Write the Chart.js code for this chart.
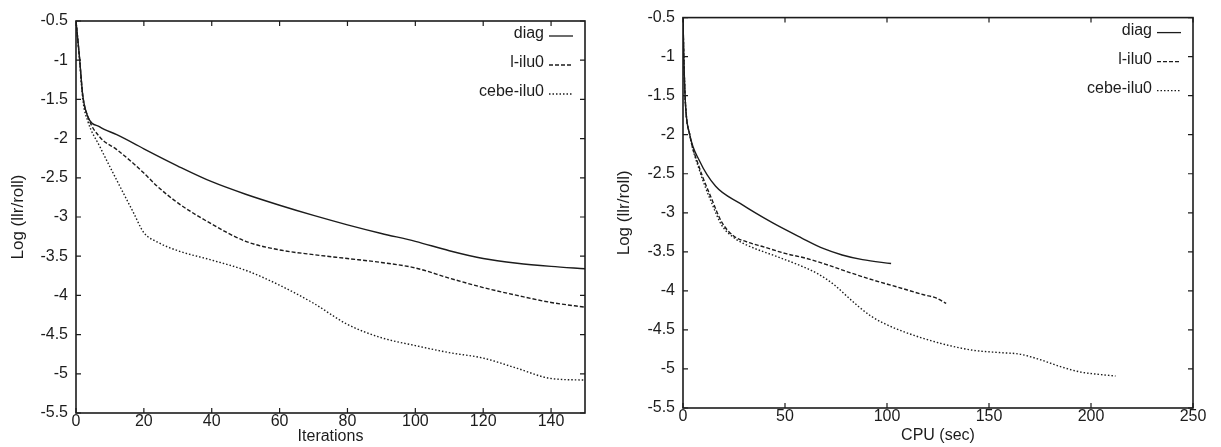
<!DOCTYPE html>
<html>
<head>
<meta charset="utf-8">
<script src="https://cdn.jsdelivr.net/npm/chart.js@4/dist/chart.umd.min.js"></script>
<style>
    html, body { margin: 0; padding: 0; background: #fff; }
    body { width: 1221px; height: 447px; position: relative; overflow: hidden; }
    canvas { position: absolute; top: 0; }
    #iterChart { left: 0; }
    #cpuChart { left: 600px; }
</style>
</head>
<body>
<canvas id="iterChart" width="600" height="447"></canvas>
<canvas id="cpuChart" width="621" height="447"></canvas>
<script>
// series names, shared by both panels
const seriesNames = ["diag", "l-ilu0", "cebe-ilu0"];

// left panel: log residual vs iterations
const iterations = [0, 1, 2, 3.5, 7, 12, 17, 20, 24, 30, 40, 50, 60, 70, 80, 90, 100, 110, 120, 130, 140, 150];
const iterDiag  = [-0.5, -0.95, -1.45, -1.72, -1.85, -1.95, -2.06, -2.13, -2.22, -2.35, -2.55, -2.71, -2.85, -2.98, -3.1, -3.21, -3.31, -3.43, -3.53, -3.59, -3.63, -3.66];
const iterLilu0 = [-0.5, -0.95, -1.45, -1.72, -1.98, -2.14, -2.32, -2.44, -2.61, -2.82, -3.09, -3.31, -3.42, -3.48, -3.53, -3.58, -3.65, -3.78, -3.9, -4.0, -4.09, -4.15];
const iterCebe  = [-0.5, -0.97, -1.5, -1.78, -2.1, -2.53, -2.95, -3.2, -3.32, -3.43, -3.55, -3.68, -3.87, -4.1, -4.37, -4.54, -4.64, -4.73, -4.8, -4.93, -5.06, -5.08];

// right panel: log residual vs CPU seconds
const cpuDiagSec = [0, 0.4, 1.2, 3.3, 8, 16, 28, 44, 58, 69, 78, 88, 102];
const cpuDiagLog = [-0.5, -1.0, -1.6, -2.0, -2.33, -2.66, -2.88, -3.13, -3.32, -3.46, -3.54, -3.6, -3.65];
const cpuLiluSec = [0, 0.4, 1.2, 3.3, 8, 14, 19, 25, 31, 40, 50, 60, 70, 80, 93, 105, 118, 124, 129];
const cpuLiluLog = [-0.5, -1.0, -1.6, -2.0, -2.42, -2.82, -3.12, -3.3, -3.37, -3.44, -3.52, -3.58, -3.66, -3.75, -3.86, -3.95, -4.05, -4.09, -4.16];
const cpuCebeSec = [0, 0.4, 1.2, 3.3, 8, 14, 19, 25, 31, 46, 56, 66, 74, 80, 86, 92, 98, 110, 126, 142, 155, 165, 175, 185, 195, 204, 212];
const cpuCebeLog = [-0.5, -1.0, -1.6, -2.0, -2.45, -2.87, -3.16, -3.32, -3.41, -3.56, -3.66, -3.78, -3.92, -4.06, -4.2, -4.32, -4.41, -4.54, -4.67, -4.76, -4.79, -4.81, -4.88, -4.97, -5.04, -5.07, -5.09];

const INK = "#1c1c1c";
const FONT = "'Liberation Sans', Arial, Helvetica, sans-serif";
const dashes = [[], [4, 2], [1.5, 2]];

const toPoints = (xs, ys) => xs.map((x, i) => ({ x: x, y: ys[i] }));

// gnuplot-ish box with inward ticks on all four sides
const framePlugin = {
    id: "frame",
    afterDraw(chart) {
        const { ctx, chartArea: a, scales } = chart;
        ctx.save();
        ctx.strokeStyle = INK;
        ctx.lineWidth = 1.6;
        ctx.strokeRect(a.left, a.top, a.right - a.left, a.bottom - a.top);
        ctx.lineWidth = 1.2;
        ctx.beginPath();
        scales.x.ticks.forEach(t => {
            const px = scales.x.getPixelForValue(t.value);
            ctx.moveTo(px, a.bottom); ctx.lineTo(px, a.bottom - 5);
            ctx.moveTo(px, a.top); ctx.lineTo(px, a.top + 5);
        });
        scales.y.ticks.forEach(t => {
            const py = scales.y.getPixelForValue(t.value);
            ctx.moveTo(a.left, py); ctx.lineTo(a.left + 5, py);
            ctx.moveTo(a.right, py); ctx.lineTo(a.right - 5, py);
        });
        ctx.stroke();
        ctx.restore();
    }
};

// key in the top right corner: label first, then a line sample
const keyPlugin = {
    id: "key",
    afterDraw(chart) {
        const { ctx, chartArea: a } = chart;
        ctx.save();
        ctx.font = "16px " + FONT;
        ctx.fillStyle = INK;
        ctx.strokeStyle = INK;
        ctx.lineWidth = 1.3;
        ctx.textAlign = "right";
        ctx.textBaseline = "middle";
        chart.data.datasets.forEach((ds, i) => {
            const y = a.top + 13 + i * 29;
            ctx.fillText(ds.label, a.right - 41, y);
            ctx.setLineDash(ds.borderDash || []);
            ctx.beginPath();
            ctx.moveTo(a.right - 36, y + 2);
            ctx.lineTo(a.right - 12, y + 2);
            ctx.stroke();
        });
        ctx.restore();
    }
};

function makePanel(canvasId, sets, xOpts, layout) {
    return new Chart(document.getElementById(canvasId), {
        type: "line",
        data: {
            datasets: sets.map((pts, i) => ({
                label: seriesNames[i],
                data: pts,
                borderColor: INK,
                borderWidth: 1.4,
                borderDash: dashes[i],
                pointRadius: 0,
                fill: false,
                cubicInterpolationMode: "monotone"
            }))
        },
        options: {
            responsive: false,
            animation: false,
            layout: { padding: { top: layout.top, right: layout.right, left: 0, bottom: 0 } },
            plugins: { legend: { display: false }, tooltip: { enabled: false } },
            scales: {
                x: {
                    type: "linear",
                    min: 0,
                    max: xOpts.max,
                    grid: { display: false, drawTicks: false },
                    border: { display: false },
                    ticks: {
                        stepSize: xOpts.step,
                        includeBounds: false,
                        maxRotation: 0,
                        padding: -1,
                        color: INK,
                        font: { family: FONT, size: 16 },
                        callback: v => String(v)
                    },
                    title: {
                        display: true,
                        text: xOpts.title,
                        color: INK,
                        font: { family: FONT, size: 16 },
                        padding: { top: 0, bottom: layout.xTitlePad }
                    },
                    afterFit: s => { s.height = layout.xHeight; }
                },
                y: {
                    type: "linear",
                    min: -5.5,
                    max: -0.5,
                    grid: { display: false, drawTicks: false },
                    border: { display: false },
                    ticks: {
                        stepSize: 0.5,
                        padding: 8,
                        color: INK,
                        font: { family: FONT, size: 16 },
                        callback: v => String(v)
                    },
                    title: {
                        display: true,
                        text: "Log (llr/roll)",
                        color: INK,
                        font: { family: FONT, size: 17 },
                        padding: { top: layout.yTitlePad, bottom: 0 }
                    },
                    afterFit: s => { s.width = layout.yWidth; }
                }
            }
        },
        plugins: [framePlugin, keyPlugin]
    });
}

makePanel("iterChart",
    [toPoints(iterations, iterDiag), toPoints(iterations, iterLilu0), toPoints(iterations, iterCebe)],
    { max: 150, step: 20, title: "Iterations" },
    { top: 21, right: 15, yWidth: 76, xHeight: 34, yTitlePad: 8, xTitlePad: 1 });

makePanel("cpuChart",
    [toPoints(cpuDiagSec, cpuDiagLog), toPoints(cpuLiluSec, cpuLiluLog), toPoints(cpuCebeSec, cpuCebeLog)],
    { max: 250, step: 50, title: "CPU (sec)" },
    { top: 16, right: 28, yWidth: 83, xHeight: 39, yTitlePad: 14, xTitlePad: 2 });
</script>
</body>
</html>
